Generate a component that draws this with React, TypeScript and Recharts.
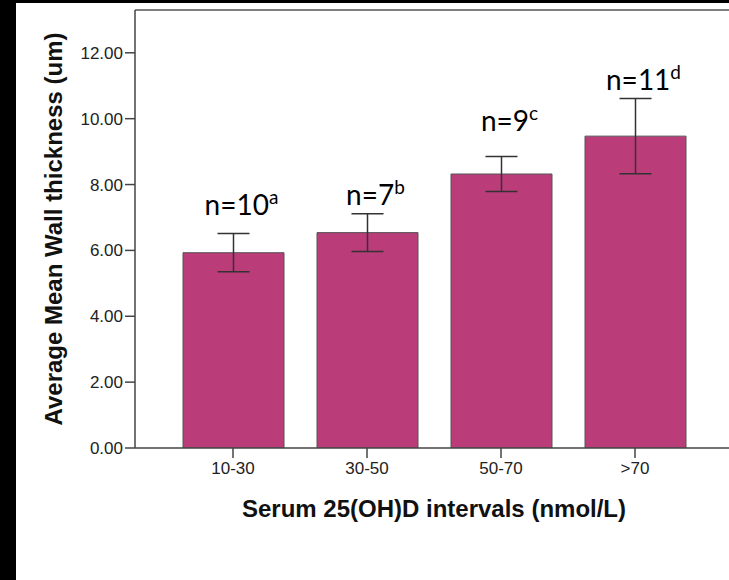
import React from 'react'
import { BarChart, Bar, XAxis, YAxis, ErrorBar, LabelList, ReferenceLine } from 'recharts'

const categories = ['10-30', '30-50', '50-70', '>70']
const means = [5.93, 6.54, 8.32, 9.47]
const errors = [0.58, 0.57, 0.53, 1.14]
const counts = [10, 7, 9, 11]
const letters = ['a', 'b', 'c', 'd']
const yTicks = [0, 2, 4, 6, 8, 10, 12]
const yMax = 13.3
// where each "n=" note sits, in axis units
const labelPos = [7.08, 7.38, 9.63, 10.87]

const data = categories.map((cat, i) => ({ cat, mean: means[i], err: errors[i] }))

const axisColor = '#444'
const font = 'Liberation Sans, Arial, sans-serif'

const XTick = (props: any) => {
  const { x, y, payload } = props
  return (
    <text x={x} y={y + 14} textAnchor="middle" fontFamily={font} fontSize={17} fill="#222">
      {payload.value}
    </text>
  )
}

const YTick = (props: any) => {
  const { x, y, payload } = props
  return (
    <text x={x} y={y + 6} textAnchor="end" fontFamily={font} fontSize={17} fill="#222">
      {Number(payload.value).toFixed(2)}
    </text>
  )
}

const NoteLabel = (props: any) => {
  const { x, y, width, height, value, index } = props
  const perUnit = height / value
  const cx = x + width / 2
  const baseY = y - (labelPos[index] - value) * perUnit
  return (
    <text x={cx + 8} y={baseY} textAnchor="middle" fontFamily="Lato, 'Open Sans', sans-serif" fontSize={28} fill="#000">
      n={counts[index]}
      <tspan fontSize={19} dy={-11}>{letters[index]}</tspan>
    </text>
  )
}

const YTitle = (props: any) => {
  const { viewBox } = props
  const cx = viewBox.x + viewBox.width - 81.5
  const cy = viewBox.y + viewBox.height / 2
  return (
    <text x={cx} y={cy} transform={`rotate(-90, ${cx}, ${cy})`} textAnchor="middle" dominantBaseline="central"
      fontFamily={font} fontWeight="bold" fontSize={24} fill="#111">
      Average Mean Wall thickness (um)
    </text>
  )
}

const XTitle = (props: any) => {
  const { viewBox } = props
  const cx = viewBox.x + viewBox.width / 2
  return (
    <text x={cx} y={viewBox.y + 69} textAnchor="middle" fontFamily={font} fontWeight="bold" fontSize={24} fill="#111">
      Serum 25(OH)D intervals (nmol/L)
    </text>
  )
}

export default function App() {
  return (
    <div style={{ position: 'absolute', left: 0, top: 0, width: 729, height: 580, overflow: 'hidden', background: '#fff' }}>
      <div style={{ position: 'absolute', left: 0, top: 0 }}>
        <BarChart width={740} height={580} data={data} margin={{ top: 10, right: 7, left: 0, bottom: 102 }}>
          <XAxis
            dataKey="cat"
            padding={{ left: 31, right: 31 }}
            tickSize={10}
            tickMargin={2}
            stroke={axisColor}
            strokeWidth={1.5}
            tick={XTick}
            height={30}
            label={XTitle}
          />
          <YAxis
            width={135}
            domain={[0, yMax]}
            ticks={yTicks}
            allowDataOverflow
            tickSize={10}
            tickMargin={2}
            stroke={axisColor}
            strokeWidth={1.5}
            tick={YTick}
            label={YTitle}
          />
          <ReferenceLine y={yMax} stroke="#555" strokeWidth={1.5} />
          <Bar dataKey="mean" barSize={101} fill="#BA3D7A" stroke="#555" strokeWidth={1} isAnimationActive={false}>
            <ErrorBar dataKey="err" direction="y" width={16} stroke="#333" strokeWidth={1.5} />
            <LabelList dataKey="mean" content={NoteLabel} />
          </Bar>
        </BarChart>
      </div>
      <div style={{ position: 'absolute', left: 0, top: 0, width: 16, height: 580, background: '#000' }} />
      <div style={{ position: 'absolute', left: 0, top: 0, width: 729, height: 3, background: '#000' }} />
    </div>
  )
}
